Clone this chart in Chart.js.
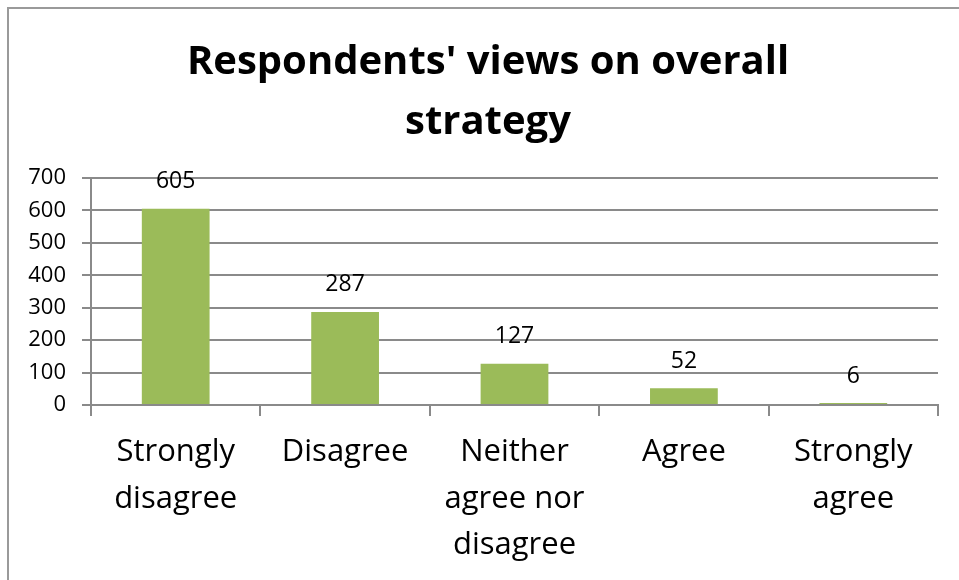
<!DOCTYPE html>
<html>
<head>
<meta charset="utf-8">
<script src="https://cdn.jsdelivr.net/npm/chart.js@4/dist/chart.umd.min.js"></script>
<style>
  html, body { margin: 0; padding: 0; background: #fff; overflow: hidden; }
  #wrap { position: relative; width: 959px; height: 580px; }
  #frame { position: absolute; left: 7px; top: 7px; width: 1000px; height: 1000px; border: 2px solid #9a9a9a; box-sizing: border-box; }
  canvas { position: absolute; left: 0; top: 0; }
</style>
</head>
<body>
<div id="wrap">
  <div id="frame"></div>
  <canvas id="chart" width="959" height="580"></canvas>
</div>
<script>
const chartTitle = ["Respondents' views on overall", 'strategy'];
const categories = [
    ['Strongly', 'disagree'],
    'Disagree',
    ['Neither', 'agree nor', 'disagree'],
    'Agree',
    ['Strongly', 'agree']
];
const responses = [605, 287, 127, 52, 6];
const yTicks = [0, 100, 200, 300, 400, 500, 600, 700];

const FONT = "'Open Sans', sans-serif";
const GRID = '#8a8a8a';

// title centred on the frame rather than the plot area
const frameTitle = {
    id: 'frameTitle',
    afterDraw(chart) {
        const ctx = chart.ctx;
        ctx.save();
        ctx.font = 'bold 40px ' + FONT;
        ctx.fillStyle = '#000';
        ctx.textAlign = 'center';
        ctx.textBaseline = 'middle';
        chartTitle.forEach((line, i) => {
            ctx.fillText(line, 488, 63 + i * 60);
        });
        ctx.restore();
    }
};

// value labels above each bar
const valueLabels = {
    id: 'valueLabels',
    afterDatasetsDraw(chart) {
        const ctx = chart.ctx;
        const meta = chart.getDatasetMeta(0);
        ctx.save();
        ctx.font = '23px ' + FONT;
        ctx.fillStyle = '#000';
        ctx.textAlign = 'center';
        ctx.textBaseline = 'middle';
        meta.data.forEach((bar, i) => {
            ctx.fillText(String(responses[i]), bar.x, bar.y - 27);
        });
        ctx.restore();
    }
};

new Chart(document.getElementById('chart'), {
    type: 'bar',
    data: {
        labels: categories,
        datasets: [{
            data: responses,
            backgroundColor: '#9bbb59',
            borderWidth: 0,
            barPercentage: 0.4,
            categoryPercentage: 1
        }]
    },
    options: {
        responsive: false,
        animation: false,
        layout: { padding: { left: 0, right: 21, top: 178, bottom: 0 } },
        plugins: {
            legend: { display: false },
            tooltip: { enabled: false },
            title: { display: false }
        },
        scales: {
            x: {
                grid: {
                    offset: true,
                    drawOnChartArea: false,
                    drawTicks: true,
                    tickLength: 11,
                    color: GRID,
                    lineWidth: 2
                },
                border: { color: GRID, width: 2 },
                ticks: {
                    color: '#000',
                    padding: 13,
                    maxRotation: 0,
                    autoSkip: false,
                    font: { family: FONT, size: 31, lineHeight: 1.5 }
                },
                afterFit(scale) { scale.height = 175; }
            },
            y: {
                min: 0,
                max: 700,
                afterBuildTicks(scale) { scale.ticks = yTicks.map(v => ({ value: v })); },
                grid: { color: GRID, lineWidth: 2, tickLength: 9 },
                border: { color: GRID, width: 2 },
                ticks: {
                    color: '#000',
                    padding: 16,
                    font: { family: FONT, size: 22 }
                },
                afterFit(scale) { scale.width = 91; }
            }
        }
    },
    plugins: [valueLabels, frameTitle]
});
</script>
</body>
</html>
